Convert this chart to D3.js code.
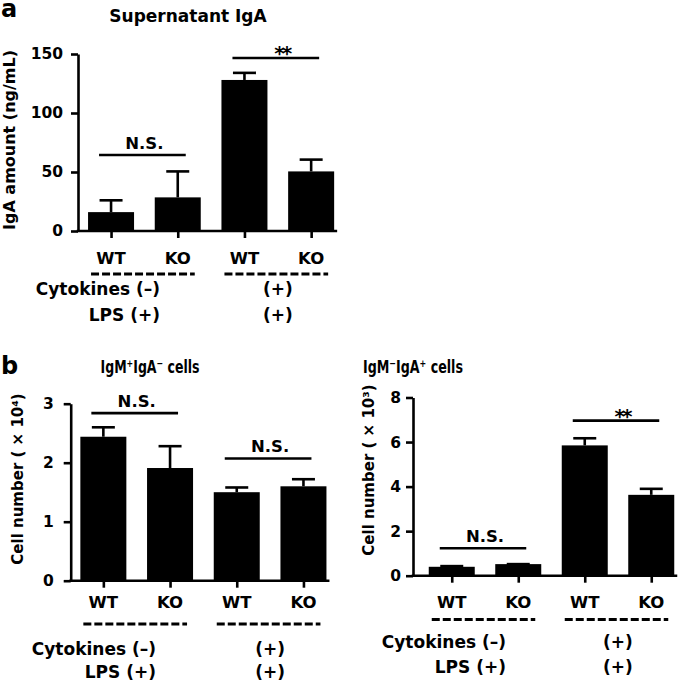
<!DOCTYPE html>
<html>
<head>
<meta charset="utf-8">
<script src="https://cdn.jsdelivr.net/npm/d3@7"></script>
<style>
  html, body { margin: 0; padding: 0; background: #fff; }
  svg { display: block; }
  text { font-family: "DejaVu Sans", Verdana, sans-serif; font-weight: bold; fill: #000; }
</style>
</head>
<body>
<svg id="chart" width="685" height="685"></svg>
<script>
// ---------------- data ----------------
const groupLabels = ["WT", "KO", "WT", "KO"];

// Panel a: Supernatant IgA (ng/mL)
const igaMean = [16, 28.5, 128, 50.5];
const igaErr  = [10, 22, 6, 10];
const igaTicks = [0, 50, 100, 150];
const igaSig = [
  { from: 0, to: 1, level: 64.4, label: "N.S." },
  { from: 2, to: 3, level: 146.6, label: "**" }
];

// Panel b left: IgM+IgA- cells (x 10^4)
const igmPosMean = [2.44, 1.91, 1.50, 1.60];
const igmPosErr  = [0.16, 0.37, 0.08, 0.12];
const igmPosTicks = [0, 1, 2, 3];
const igmPosSig = [
  { from: 0, to: 1, level: 2.84, label: "N.S." },
  { from: 2, to: 3, level: 2.07, label: "N.S." }
];

// Panel b right: IgM-IgA+ cells (x 10^3)
const igaPosMean = [0.40, 0.52, 5.85, 3.63];
const igaPosErr  = [0.03, 0.0, 0.32, 0.27];
const igaPosTicks = [0, 2, 4, 6, 8];
const igaPosSig = [
  { from: 0, to: 1, level: 1.23, label: "N.S." },
  { from: 2, to: 3, level: 6.96, label: "**" }
];

const cytokineLabels = ["Cytokines (\u2013)", "(+)"];
const lpsLabels = ["LPS (+)", "(+)"];

// ---------------- drawing ----------------
const svg = d3.select("#chart");
const SW = 2.6;

function drawPanel(cfg) {
  const g = svg.append("g");
  const y = d3.scaleLinear().domain([0, d3.max(cfg.ticks)]).range([cfg.y0, cfg.y1]);
  const x = d3.scalePoint().domain(d3.range(cfg.mean.length)).range([cfg.x0, cfg.x0 + 4 * cfg.step]).padding(0.5);
  const bw = cfg.barW;

  // bars
  g.selectAll("rect.bar").data(cfg.mean).join("rect")
    .attr("x", (d, i) => x(i) - bw / 2)
    .attr("width", bw)
    .attr("y", d => y(d))
    .attr("height", d => y(0) - y(d))
    .attr("fill", "#000");

  // error bars
  const eb = g.selectAll("g.err").data(cfg.mean).join("g");
  eb.append("line")
    .attr("x1", (d, i) => x(i)).attr("x2", (d, i) => x(i))
    .attr("y1", d => y(d)).attr("y2", (d, i) => y(d + cfg.err[i]))
    .attr("stroke", "#000").attr("stroke-width", SW);
  eb.append("line")
    .attr("x1", (d, i) => x(i) - 11.5).attr("x2", (d, i) => x(i) + 11.5)
    .attr("y1", (d, i) => y(d + cfg.err[i])).attr("y2", (d, i) => y(d + cfg.err[i]))
    .attr("stroke", "#000").attr("stroke-width", SW);

  // y axis
  const yAxis = d3.axisLeft(y).tickValues(cfg.ticks).tickSize(7).tickSizeOuter(0)
    .tickPadding(cfg.tickPad).tickFormat(d3.format("d"));
  const ya = g.append("g").attr("transform", `translate(${cfg.axisX},0)`).call(yAxis);
  ya.select(".domain").attr("stroke", "#000").attr("stroke-width", SW);
  ya.selectAll(".tick line").attr("stroke", "#000").attr("stroke-width", SW);
  ya.selectAll(".tick text").style("font-size", "15.5px").style("font-family", '"DejaVu Sans", sans-serif').style("font-weight", "bold");

  // x axis (baseline + ticks)
  const xa = g.append("g").attr("transform", `translate(0,${y(0)})`)
    .call(d3.axisBottom(x).tickSize(7).tickSizeOuter(0).tickFormat(""));
  xa.select(".domain").remove();
  xa.selectAll(".tick line").attr("stroke", "#000").attr("stroke-width", SW);
  g.append("line")
    .attr("x1", cfg.axisX - SW / 2).attr("x2", x(cfg.mean.length - 1) + bw / 2 + 3)
    .attr("y1", y(0)).attr("y2", y(0))
    .attr("stroke", "#000").attr("stroke-width", SW);

  // group labels
  g.selectAll("text.grp").data(groupLabels).join("text")
    .attr("x", (d, i) => x(i)).attr("y", cfg.grpBase)
    .attr("text-anchor", "middle").style("font-size", "16.5px")
    .text(d => d);

  // dashed lines under pairs
  [0, 2].forEach(i => {
    g.append("line")
      .attr("x1", x(i) - 20).attr("x2", x(i + 1) + 17)
      .attr("y1", cfg.dashY).attr("y2", cfg.dashY)
      .attr("stroke", "#000").attr("stroke-width", 3)
      .attr("stroke-dasharray", "8,3");
  });

  // condition labels
  g.append("text").attr("x", cfg.condRight).attr("y", cfg.cytBase).attr("text-anchor", "end")
    .style("font-size", "17px").text(cytokineLabels[0]);
  g.append("text").attr("x", cfg.condRight).attr("y", cfg.lpsBase).attr("text-anchor", "end")
    .style("font-size", "17px").text(lpsLabels[0]);
  g.append("text").attr("x", (x(2) + x(3)) / 2).attr("y", cfg.cytBase).attr("text-anchor", "middle")
    .style("font-size", "17px").text(cytokineLabels[1]);
  g.append("text").attr("x", (x(2) + x(3)) / 2).attr("y", cfg.lpsBase).attr("text-anchor", "middle")
    .style("font-size", "17px").text(lpsLabels[1]);

  // significance
  cfg.sig.forEach(s => {
    const ly = y(s.level);
    const xa1 = x(s.from) - 12, xa2 = x(s.to) + 8;
    g.append("line").attr("x1", xa1).attr("x2", xa2).attr("y1", ly).attr("y2", ly)
      .attr("stroke", "#000").attr("stroke-width", SW);
    if (s.label === "**") {
      g.append("text").attr("x", (xa1 + xa2) / 2 + 6).attr("y", ly + 2)
        .attr("text-anchor", "middle").style("font-size", "20px").style("letter-spacing", "-3px")
        .text(s.label);
    } else {
      g.append("text").attr("x", (xa1 + xa2) / 2 + 2).attr("y", ly - 6.5)
        .attr("text-anchor", "middle").style("font-size", "16.5px").text(s.label);
    }
  });

  // y label
  g.append("text")
    .attr("transform", `translate(${cfg.ylabX},${cfg.ylabY}) rotate(-90)`)
    .attr("text-anchor", "middle").style("font-size", cfg.ylabSize)
    .text(cfg.ylab);

  // title
  const t = g.append("text").attr("x", cfg.titleX).attr("y", cfg.titleY)
    .attr("text-anchor", "middle").style("font-size", cfg.titleSize).text(cfg.title);
  if (cfg.titleLen) t.attr("textLength", cfg.titleLen).attr("lengthAdjust", "spacingAndGlyphs");
}

drawPanel({
  mean: igaMean, err: igaErr, ticks: igaTicks, sig: igaSig,
  y0: 231, y1: 54, x0: 77.7, step: 66.7, barW: 46, axisX: 78, tickPad: 8,
  grpBase: 263.5, dashY: 274, condRight: 160, cytBase: 295, lpsBase: 320.5,
  ylab: "IgA amount (ng/mL)", ylabX: 15, ylabY: 140, ylabSize: "16px",
  title: "Supernatant IgA", titleX: 188, titleY: 22, titleSize: "17px"
});

drawPanel({
  mean: igmPosMean, err: igmPosErr, ticks: igmPosTicks, sig: igmPosSig,
  y0: 580.7, y1: 403.7, x0: 70, step: 66.7, barW: 46, axisX: 70.7, tickPad: 10,
  grpBase: 608, dashY: 624, condRight: 156, cytBase: 655, lpsBase: 678,
  ylab: "Cell number ( \u00d7 10\u2074)", ylabX: 23, ylabY: 479, ylabSize: "15px",
  title: "IgM\u207AIgA\u207B cells", titleX: 150, titleY: 373, titleSize: "18.5px", titleLen: 99
});

drawPanel({
  mean: igaPosMean, err: igaPosErr, ticks: igaPosTicks, sig: igaPosSig,
  y0: 575.7, y1: 397.5, x0: 418.5, step: 66.5, barW: 46, axisX: 413, tickPad: 5,
  grpBase: 607.5, dashY: 619.5, condRight: 506, cytBase: 648, lpsBase: 673,
  ylab: "Cell number ( \u00d7 10\u00b3)", ylabX: 374, ylabY: 470, ylabSize: "15px",
  title: "IgM\u207BIgA\u207A cells", titleX: 413, titleY: 373, titleSize: "18.5px", titleLen: 100
});

// panel letters
svg.append("text").attr("x", 1).attr("y", 17).style("font-size", "24px").text("a");
svg.append("text").attr("x", 1).attr("y", 374).style("font-size", "24px").text("b");
</script>
</body>
</html>
